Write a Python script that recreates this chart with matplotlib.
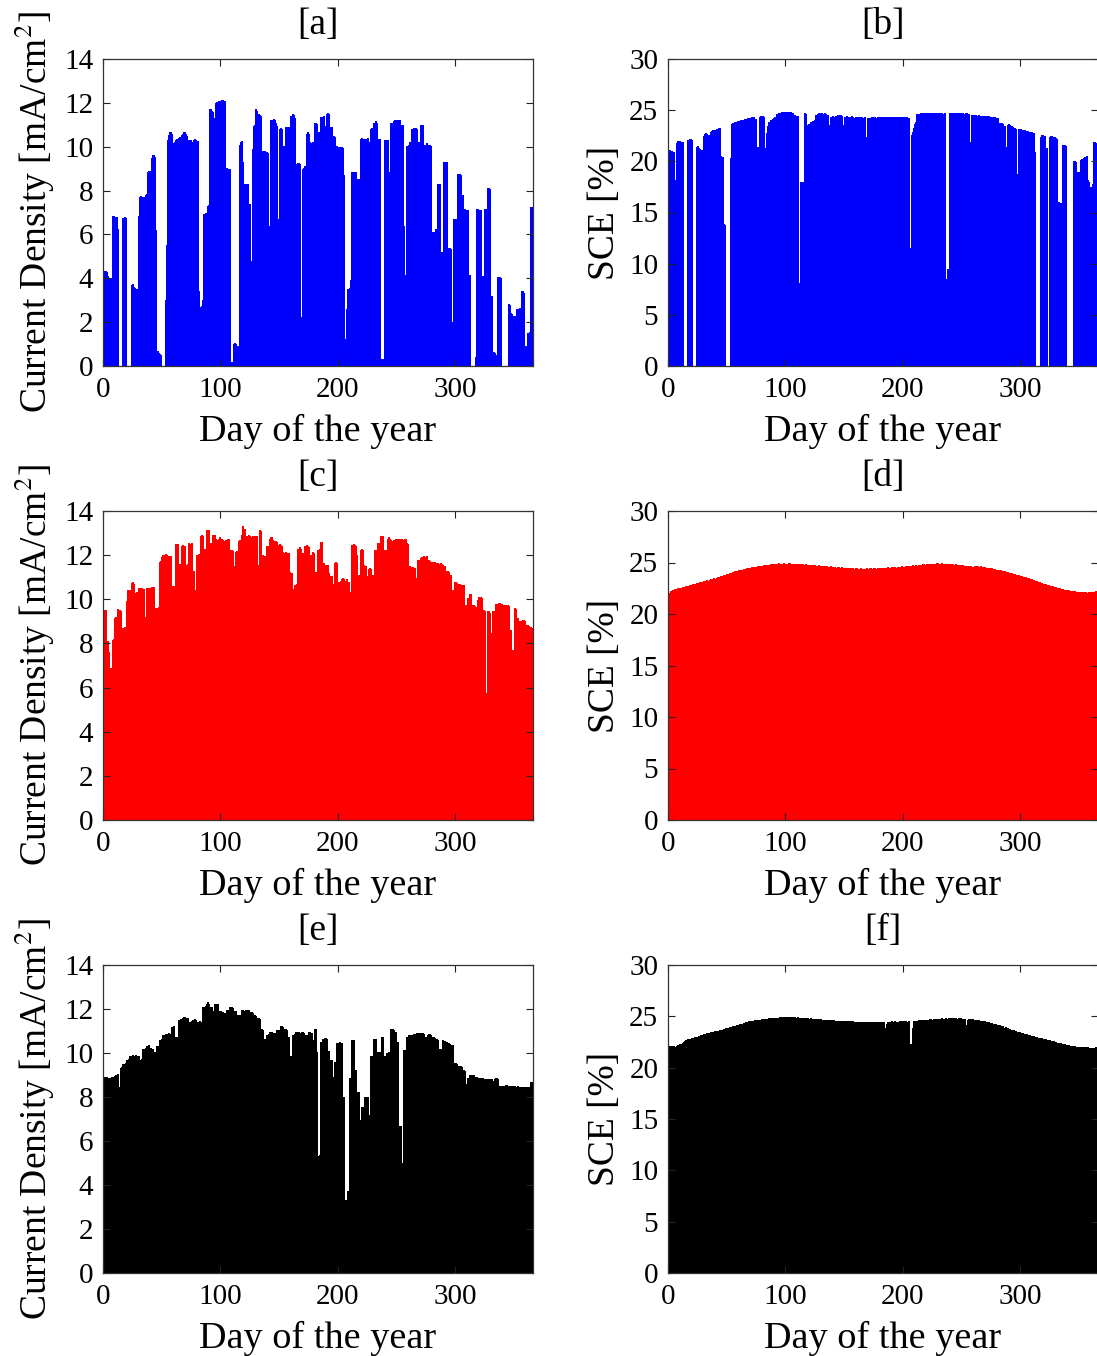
import numpy as np
import matplotlib
matplotlib.use("Agg")
import matplotlib.pyplot as plt

# Daily values (day 1..365)
# [a] current density, blue
cd_a = [
    4.35, 4.35, 4.3, 4.1, 4.0, 4.0, 1.9, 6.85, 6.85, 6.8,
    6.8, 6.25, 0, 0, 0, 0, 6.75, 6.8, 6.75, 0,
    0, 0, 0, 3.7, 3.75, 3.6, 3.55, 3.5, 3.5, 6.85,
    7.7, 7.75, 7.7, 7.7, 2.9, 7.8, 7.85, 8.85, 8.9, 8.9,
    9.5, 9.6, 9.6, 9.55, 6.2, 0.7, 0.6, 0.55, 0.5, 0,
    0, 0, 3.0, 5.5, 10.3, 10.55, 10.65, 10.6, 10.15, 10.1,
    10.2, 10.3, 10.35, 10.4, 10.45, 10.4, 10.55, 10.6, 10.65, 10.6,
    10.5, 10.3, 10.25, 10.3, 0.2, 10.2, 10.3, 10.35, 10.3, 10.25,
    3.4, 1.25, 2.7, 2.75, 3.0, 6.95, 7.0, 7.0, 7.3, 7.35,
    11.7, 11.65, 11.6, 10.95, 11.3, 12.0, 12.05, 12.1, 11.3, 12.1,
    12.15, 12.15, 12.1, 9.05, 9.05, 9.0, 9.0, 9.0, 0.2, 0.15,
    1.0, 1.05, 1.0, 0.9, 0.05, 10.1, 10.2, 10.25, 9.3, 8.3,
    8.3, 8.25, 8.3, 7.4, 7.4, 4.8, 9.9, 10.95, 11.0, 11.7,
    11.65, 11.5, 11.45, 11.4, 7.7, 9.8, 9.8, 9.75, 9.75, 9.7,
    6.4, 5.6, 11.2, 11.2, 11.25, 11.2, 11.1, 10.95, 6.7, 10.8,
    10.85, 10.8, 10.05, 10.05, 10.9, 10.9, 10.85, 10.9, 0.4, 11.4,
    11.5, 11.45, 11.3, 9.2, 9.2, 9.25, 9.2, 2.25, 2.25, 9.0,
    9.05, 9.1, 10.6, 10.65, 10.6, 10.2, 10.15, 10.2, 7.5, 11.1,
    11.1, 11.05, 10.65, 10.65, 11.35, 11.3, 11.35, 11.4, 10.95, 11.5,
    11.55, 11.5, 10.9, 10.9, 10.5, 10.5, 10.45, 10.05, 10.05, 10.0,
    10.0, 10.0, 10.0, 9.95, 8.7, 1.25, 2.6, 3.5, 3.5, 3.55,
    3.9, 8.85, 8.85, 8.85, 8.85, 8.55, 8.55, 8.55, 10.35, 10.4,
    10.35, 10.2, 10.35, 10.35, 10.4, 10.2, 10.2, 10.8, 10.85, 11.1,
    11.1, 11.15, 11.1, 10.35, 10.35, 0.3, 0.3, 0.25, 0.3, 10.3,
    10.3, 10.3, 8.85, 8.85, 11.1, 11.1, 11.15, 11.2, 11.2, 11.2,
    11.15, 11.2, 11.0, 11.0, 11.0, 6.4, 4.15, 10.05, 10.05, 10.1,
    10.2, 10.2, 10.8, 10.85, 10.8, 10.85, 10.8, 10.2, 10.2, 11.0,
    11.0, 11.0, 10.1, 10.1, 10.15, 10.1, 10.1, 10.1, 10.05, 6.1,
    6.1, 0.3, 6.25, 6.25, 8.3, 8.3, 5.2, 5.2, 2.9, 9.3,
    9.3, 9.3, 5.4, 5.4, 5.4, 5.35, 2.0, 6.7, 6.7, 6.7,
    6.7, 8.75, 8.75, 8.7, 7.8, 7.8, 7.15, 7.15, 7.1, 7.1,
    4.15, 4.15, 0, 0, 0, 0, 0.4, 7.15, 7.15, 7.1,
    7.1, 4.1, 4.1, 0.1, 7.15, 7.15, 8.1, 8.1, 8.05, 3.2,
    3.2, 0.65, 0.6, 0.5, 0.1, 4.05, 4.05, 4.0, 0, 0,
    0, 0, 0, 0, 2.85, 2.8, 2.4, 2.35, 2.3, 2.3,
    0.8, 2.6, 2.6, 2.6, 2.65, 3.4, 3.4, 3.35, 0.1, 0.9,
    1.5, 1.5, 1.55, 7.25, 7.25,
]

# [b] SCE, blue
sce_b = [
    21.1, 21.05, 21.0, 20.95, 20.9, 18.2, 21.8, 22.0, 22.0, 21.95,
    21.9, 21.85, 0, 0, 0, 0, 22.1, 22.2, 22.15, 22.1,
    0, 0, 0, 21.4, 21.5, 21.3, 21.2, 21.1, 21.1, 22.5,
    22.7, 22.75, 22.7, 22.6, 20.1, 22.9, 23.0, 23.05, 23.1, 23.1,
    23.15, 23.2, 23.25, 23.3, 20.5, 20.4, 13.9, 13.8, 0, 0,
    0, 0, 20.3, 23.6, 23.7, 23.75, 23.8, 23.85, 23.9, 23.9,
    23.95, 24.0, 24.0, 24.05, 24.1, 24.1, 24.15, 24.2, 24.2, 24.25,
    24.3, 24.3, 24.35, 24.1, 0, 21.4, 21.4, 24.3, 24.4, 24.4,
    24.35, 17.0, 21.3, 22.8, 23.5, 23.8, 24.0, 24.0, 24.1, 24.2,
    24.3, 24.6, 24.65, 24.7, 24.75, 24.75, 24.8, 24.8, 24.85, 24.85,
    24.85, 24.8, 24.85, 24.8, 24.75, 24.7, 24.5, 24.5, 24.45, 24.4,
    8.1, 8.1, 18.0, 18.0, 0, 24.7, 24.65, 23.55, 23.5, 23.6,
    23.85, 23.8, 23.9, 23.85, 24.0, 24.5, 24.6, 24.7, 24.7, 24.75,
    24.7, 24.65, 24.7, 24.6, 24.5, 24.5, 23.55, 24.3, 24.35, 24.4,
    24.35, 22.6, 24.4, 24.5, 24.5, 24.45, 24.5, 24.4, 23.55, 24.3,
    24.35, 24.4, 24.35, 24.3, 24.35, 24.4, 24.3, 13.45, 24.2, 24.3,
    24.35, 24.3, 24.25, 24.3, 24.3, 24.25, 24.3, 22.4, 22.3, 24.2,
    24.25, 24.2, 24.3, 24.25, 24.3, 24.3, 24.25, 24.3, 24.35, 24.3,
    24.35, 24.3, 24.3, 24.35, 24.35, 24.3, 24.35, 24.3, 24.3, 24.35,
    24.3, 24.35, 24.35, 24.3, 24.35, 24.3, 24.35, 24.35, 24.3, 24.3,
    24.35, 24.3, 24.3, 24.25, 24.2, 11.55, 22.6, 22.9, 23.3, 23.6,
    23.8, 24.6, 24.65, 24.6, 24.7, 24.65, 24.7, 24.7, 24.65, 24.7,
    24.7, 24.65, 24.7, 24.7, 24.7, 24.75, 24.7, 24.7, 24.7, 24.65,
    24.7, 24.7, 24.7, 24.65, 24.7, 8.55, 8.55, 9.5, 9.5, 24.7,
    24.65, 24.7, 24.7, 24.65, 24.7, 24.7, 24.75, 24.7, 24.65, 24.7,
    24.7, 24.65, 24.7, 24.7, 24.65, 24.6, 21.9, 24.5, 24.5, 24.55,
    24.5, 24.5, 24.45, 24.5, 24.45, 24.45, 24.4, 24.45, 24.4, 24.4,
    24.4, 24.35, 24.4, 24.35, 24.3, 24.35, 24.3, 24.3, 24.25, 24.2,
    12.5, 23.7, 23.75, 23.7, 23.6, 23.5, 21.4, 21.4, 23.55, 23.6,
    23.55, 23.5, 23.4, 23.3, 23.3, 23.2, 18.8, 23.2, 23.15, 23.2,
    23.1, 23.1, 23.05, 23.0, 23.0, 22.95, 22.9, 22.9, 22.85, 22.8,
    22.8, 20.95, 0, 0, 0, 0, 22.4, 22.6, 22.55, 22.5,
    21.3, 21.3, 0, 0, 22.4, 22.45, 22.4, 22.35, 22.4, 22.3,
    22.2, 16.05, 15.9, 15.9, 0, 21.6, 21.55, 21.5, 0, 0,
    0, 0, 0, 0, 20.0, 20.0, 19.9, 19.0, 19.0, 17.0,
    20.1, 20.2, 20.2, 20.3, 20.4, 20.5, 18.2, 18.0, 8.55, 17.5,
    17.8, 21.9, 21.9, 21.8, 21.8,
]

# [c] current density, red
cd_c = [
    9.5, 9.5, 8.1, 8.1, 7.6, 6.9, 6.85, 8.15, 8.2, 9.15,
    9.2, 9.55, 9.5, 9.5, 9.45, 7.25, 8.7, 8.75, 8.7, 9.9,
    10.4, 10.35, 10.4, 10.75, 10.8, 10.7, 10.3, 10.3, 10.35, 10.5,
    10.45, 10.5, 10.5, 10.45, 9.15, 9.2, 10.5, 10.45, 10.5, 10.5,
    10.55, 10.5, 10.55, 7.55, 9.6, 9.6, 9.65, 11.7, 11.75, 11.9,
    12.0, 12.0, 12.05, 12.0, 11.95, 11.9, 11.95, 10.55, 10.6, 10.6,
    10.6, 12.5, 12.5, 11.55, 11.6, 11.55, 12.4, 12.45, 12.4, 11.55,
    11.5, 11.6, 12.55, 12.5, 12.55, 11.3, 11.3, 10.4, 10.4, 12.0,
    12.05, 12.0, 12.85, 12.9, 12.85, 12.3, 12.3, 13.15, 13.1, 13.15,
    12.55, 12.55, 12.9, 12.85, 12.9, 12.75, 12.7, 12.75, 12.8, 12.75,
    12.75, 12.7, 12.65, 12.7, 12.7, 12.75, 12.75, 12.25, 12.25, 12.2,
    11.5, 11.5, 12.15, 12.2, 12.65, 12.7, 12.65, 12.9, 13.3, 13.2,
    12.85, 12.8, 12.85, 12.9, 12.85, 12.8, 12.85, 12.8, 12.85, 12.8,
    12.85, 11.55, 13.15, 13.1, 11.95, 12.0, 11.95, 11.9, 12.4, 12.4,
    12.35, 12.75, 12.8, 12.7, 12.65, 12.6, 12.65, 12.6, 12.45, 12.5,
    12.45, 12.4, 12.15, 12.1, 12.15, 12.1, 12.05, 12.1, 11.25, 11.2,
    10.4, 10.45, 10.65, 10.6, 10.7, 12.3, 12.35, 12.3, 12.1, 12.1,
    12.05, 12.4, 12.45, 12.4, 12.35, 12.0, 12.0, 12.15, 12.1, 11.25,
    11.2, 11.25, 12.25, 12.3, 12.6, 12.6, 11.65, 11.65, 11.55, 11.5,
    11.55, 11.2, 11.05, 11.05, 10.7, 10.7, 11.65, 11.7, 11.65, 10.8,
    10.8, 10.85, 10.9, 10.95, 10.9, 10.85, 10.9, 10.8, 10.8, 10.35,
    10.35, 12.45, 12.5, 12.45, 12.4, 12.0, 11.1, 11.1, 12.25, 12.3,
    12.25, 11.55, 11.5, 11.05, 11.05, 11.35, 11.4, 11.35, 11.1, 11.1,
    12.25, 12.2, 12.25, 12.55, 12.55, 12.85, 12.8, 12.85, 12.25, 12.25,
    11.2, 12.75, 12.8, 12.75, 12.7, 12.65, 12.7, 12.6, 12.75, 12.75,
    12.7, 12.75, 12.7, 12.75, 12.7, 12.7, 12.75, 12.55, 12.5, 11.5,
    11.5, 11.4, 11.45, 11.4, 11.4, 10.95, 10.95, 11.8, 11.8, 11.85,
    11.9, 11.85, 11.95, 11.9, 11.95, 11.8, 11.8, 11.75, 11.7, 11.7,
    11.65, 11.7, 11.1, 11.65, 11.65, 11.6, 11.65, 11.6, 11.55, 11.5,
    11.5, 11.3, 11.3, 11.25, 11.1, 11.1, 10.4, 10.4, 10.8, 10.8,
    10.75, 10.7, 10.7, 10.65, 10.65, 10.6, 10.65, 9.75, 9.75, 10.05,
    10.05, 10.25, 10.25, 9.75, 9.75, 9.7, 9.65, 9.65, 9.95, 10.1,
    10.1, 10.05, 9.5, 9.5, 9.45, 5.75, 9.45, 9.45, 9.4, 8.45,
    8.45, 9.45, 9.45, 9.8, 9.75, 9.8, 9.85, 9.8, 9.8, 9.75,
    9.75, 9.7, 9.75, 9.75, 9.7, 8.6, 8.6, 7.7, 7.7, 9.6,
    9.55, 9.15, 9.15, 8.25, 9.0, 9.0, 9.05, 9.05, 9.0, 8.85,
    8.85, 8.8, 8.75, 8.75, 8.7,
]

# [d] SCE, red
sce_d = [
    22.0, 22.2, 22.1, 22.3, 22.3, 22.4, 22.3, 22.5, 22.4, 22.5,
    22.5, 22.6, 22.5, 22.6, 22.7, 22.6, 22.7, 22.8, 22.7, 22.8,
    22.9, 22.8, 22.9, 23.0, 22.9, 23.0, 23.1, 23.0, 23.1, 23.2,
    23.1, 23.2, 23.3, 23.2, 23.3, 23.4, 23.3, 23.4, 23.5, 23.4,
    23.5, 23.6, 23.5, 23.6, 23.7, 23.7, 23.8, 23.7, 23.8, 23.9,
    23.9, 24.0, 23.9, 24.0, 24.1, 24.1, 24.2, 24.1, 24.2, 24.3,
    24.3, 24.2, 24.3, 24.4, 24.4, 24.4, 24.5, 24.4, 24.5, 24.5,
    24.6, 24.5, 24.6, 24.6, 24.6, 24.7, 24.6, 24.7, 24.7, 24.7,
    24.8, 24.7, 24.8, 24.8, 24.8, 24.8, 24.9, 24.8, 24.9, 24.9,
    24.9, 24.9, 24.9, 25.0, 24.9, 24.9, 24.9, 25.0, 24.9, 24.9,
    24.9, 24.9, 25.0, 24.9, 24.9, 24.9, 24.8, 24.9, 24.9, 24.9,
    24.9, 24.8, 24.9, 24.9, 24.8, 24.8, 24.9, 24.8, 24.8, 24.8,
    24.8, 24.8, 24.7, 24.8, 24.8, 24.7, 24.7, 24.8, 24.7, 24.7,
    24.7, 24.7, 24.7, 24.6, 24.7, 24.6, 24.6, 24.7, 24.6, 24.6,
    24.6, 24.6, 24.5, 24.6, 24.6, 24.5, 24.5, 24.6, 24.5, 24.5,
    24.5, 24.5, 24.4, 24.5, 24.5, 24.4, 24.5, 24.4, 24.4, 24.5,
    24.4, 24.4, 24.4, 24.5, 24.4, 24.4, 24.4, 24.4, 24.5, 24.4,
    24.4, 24.5, 24.4, 24.4, 24.5, 24.5, 24.4, 24.5, 24.5, 24.5,
    24.5, 24.4, 24.5, 24.5, 24.5, 24.5, 24.6, 24.5, 24.5, 24.6,
    24.5, 24.6, 24.6, 24.5, 24.6, 24.6, 24.6, 24.6, 24.7, 24.6,
    24.6, 24.7, 24.6, 24.7, 24.7, 24.7, 24.7, 24.8, 24.7, 24.7,
    24.8, 24.7, 24.8, 24.8, 24.8, 24.8, 24.9, 24.8, 24.8, 24.9,
    24.8, 24.9, 24.9, 24.9, 24.8, 24.9, 24.9, 24.9, 25.0, 24.9,
    24.9, 24.9, 25.0, 24.9, 24.9, 24.9, 24.9, 24.8, 24.9, 24.9,
    24.8, 24.9, 24.8, 24.8, 24.9, 24.8, 24.8, 24.8, 24.7, 24.8,
    24.8, 24.7, 24.7, 24.7, 24.7, 24.6, 24.7, 24.6, 24.6, 24.6,
    24.7, 24.6, 24.7, 24.6, 24.6, 24.65, 24.6, 24.6, 24.55, 24.5,
    24.5, 24.5, 24.5, 24.5, 24.45, 24.4, 24.4, 24.35, 24.3, 24.3,
    24.3, 24.3, 24.25, 24.2, 24.2, 24.15, 24.1, 24.1, 24.05, 24.0,
    24.0, 23.95, 23.9, 23.9, 23.85, 23.8, 23.8, 23.75, 23.7, 23.7,
    23.65, 23.6, 23.6, 23.55, 23.5, 23.5, 23.45, 23.4, 23.35, 23.3,
    23.3, 23.25, 23.2, 23.2, 23.15, 23.1, 23.05, 23.0, 22.95, 22.9,
    22.9, 22.85, 22.8, 22.8, 22.75, 22.7, 22.7, 22.65, 22.6, 22.6,
    22.55, 22.5, 22.5, 22.45, 22.4, 22.4, 22.35, 22.3, 22.3, 22.25,
    22.3, 22.2, 22.25, 22.2, 22.15, 22.2, 22.1, 22.15, 22.1, 22.1,
    22.1, 22.05, 22.1, 22.0, 22.1, 22.05, 21.9, 22.1, 22.0, 22.1,
    22.05, 22.1, 22.15, 22.2, 22.2,
]

# [e] current density, black
cd_e = [
    8.9, 8.9, 8.9, 8.85, 8.85, 8.85, 8.9, 8.9, 8.9, 8.95,
    9.0, 9.05, 8.45, 8.45, 9.3, 9.35, 9.5, 9.5, 9.55, 9.7,
    9.7, 9.75, 9.85, 9.85, 9.9, 9.85, 9.85, 9.9, 9.85, 9.85,
    9.7, 9.7, 9.75, 10.2, 10.2, 10.25, 10.3, 10.3, 10.35, 10.25,
    10.2, 10.2, 10.05, 10.05, 9.4, 10.3, 10.3, 10.6, 10.6, 10.65,
    10.8, 10.8, 10.85, 10.85, 10.85, 10.9, 10.85, 11.2, 11.2, 11.25,
    10.75, 10.75, 10.75, 11.5, 11.5, 11.55, 11.5, 11.6, 11.65, 11.6,
    11.55, 11.6, 11.4, 11.4, 11.45, 11.5, 11.5, 11.55, 11.5, 11.4,
    11.4, 11.45, 11.4, 11.0, 12.1, 12.1, 12.15, 12.25, 12.3, 12.25,
    12.1, 12.1, 11.9, 11.9, 12.25, 12.2, 12.25, 11.9, 11.9, 11.9,
    11.8, 11.85, 11.8, 11.8, 11.95, 11.95, 11.9, 12.1, 12.1, 12.05,
    11.9, 11.9, 11.9, 11.75, 11.75, 11.7, 11.75, 11.95, 11.95, 11.9,
    11.95, 11.95, 11.9, 11.95, 11.85, 11.85, 11.8, 11.75, 11.75, 11.7,
    11.6, 11.6, 11.55, 11.1, 11.1, 11.05, 10.65, 10.65, 10.8, 10.8,
    10.85, 10.95, 10.95, 10.9, 10.9, 10.85, 10.9, 11.05, 11.05, 11.0,
    11.25, 11.25, 11.2, 11.1, 11.1, 11.05, 10.75, 10.75, 9.85, 9.85,
    10.8, 10.8, 10.85, 10.95, 10.9, 10.95, 10.9, 10.85, 10.95, 10.95,
    10.9, 10.8, 10.75, 10.8, 10.95, 10.95, 10.9, 10.6, 10.6, 11.1,
    11.1, 10.05, 5.3, 5.35, 10.5, 10.5, 10.65, 10.65, 10.7, 10.65,
    10.1, 10.1, 9.7, 9.7, 8.9, 8.9, 9.6, 9.6, 10.45, 10.45,
    10.5, 10.45, 10.45, 8.0, 8.0, 3.3, 3.25, 3.75, 3.7, 8.85,
    8.85, 10.6, 10.6, 9.25, 9.25, 8.25, 8.25, 6.95, 6.95, 7.55,
    7.55, 7.55, 8.0, 8.0, 8.0, 7.2, 7.2, 9.85, 9.85, 10.65,
    10.65, 10.65, 10.05, 10.05, 10.05, 8.1, 10.75, 10.75, 9.85, 9.85,
    10.0, 10.0, 10.05, 10.05, 11.1, 11.1, 11.05, 10.95, 10.95, 10.5,
    10.5, 6.7, 6.7, 5.0, 5.0, 10.15, 10.15, 10.75, 10.75, 10.8,
    10.8, 10.8, 10.8, 10.85, 10.85, 10.85, 10.9, 10.9, 10.9, 10.85,
    10.9, 10.9, 10.85, 10.75, 10.75, 10.8, 10.85, 10.85, 10.8, 10.75,
    10.75, 10.7, 10.65, 10.65, 10.6, 10.2, 10.2, 10.2, 10.6, 10.55,
    10.55, 10.5, 10.45, 10.45, 10.4, 10.35, 10.35, 8.05, 9.55, 9.55,
    9.5, 9.4, 9.4, 9.4, 9.35, 9.25, 9.25, 9.2, 8.6, 8.85,
    8.85, 9.0, 9.0, 8.95, 9.0, 8.9, 8.9, 8.9, 8.85, 8.85,
    8.85, 8.8, 8.85, 8.8, 8.8, 8.8, 8.75, 8.8, 8.8, 8.8,
    8.8, 8.75, 8.8, 8.85, 8.85, 8.8, 8.5, 8.5, 8.5, 8.5,
    8.5, 8.5, 8.55, 8.5, 8.5, 8.5, 8.5, 8.45, 8.5, 8.5,
    8.45, 8.45, 8.5, 8.45, 8.45, 8.45, 8.4, 8.45, 8.45, 8.45,
    8.45, 8.4, 8.45, 8.7, 8.7,
]

# [f] SCE, black
sce_f = [
    22.1, 22.1, 22.0, 22.1, 22.1, 22.0, 22.1, 22.2, 22.2, 22.3,
    22.35, 22.4, 22.5, 22.6, 22.7, 22.7, 22.75, 22.8, 22.8, 22.85,
    22.9, 22.9, 22.95, 23.0, 23.0, 23.05, 23.1, 23.2, 23.2, 23.25,
    23.3, 23.3, 23.35, 23.4, 23.4, 23.45, 23.5, 23.5, 23.5, 23.55,
    23.55, 23.6, 23.6, 23.65, 23.65, 23.7, 23.75, 23.8, 23.85, 23.9,
    23.9, 23.95, 24.0, 24.0, 24.05, 24.1, 24.1, 24.15, 24.2, 24.2,
    24.25, 24.25, 24.3, 24.35, 24.35, 24.4, 24.4, 24.45, 24.5, 24.5,
    24.5, 24.55, 24.55, 24.6, 24.6, 24.6, 24.65, 24.65, 24.65, 24.7,
    24.7, 24.7, 24.75, 24.7, 24.75, 24.8, 24.75, 24.8, 24.8, 24.8,
    24.85, 24.8, 24.85, 24.85, 24.9, 24.85, 24.9, 24.9, 24.85, 24.9,
    24.9, 24.9, 24.95, 24.9, 24.9, 24.85, 24.9, 24.9, 24.85, 24.9,
    24.85, 24.85, 24.85, 24.8, 24.85, 24.8, 24.8, 24.8, 24.8, 24.75,
    24.8, 24.75, 24.75, 24.75, 24.7, 24.7, 24.7, 24.7, 24.65, 24.7,
    24.65, 24.65, 24.65, 24.6, 24.65, 24.6, 24.6, 24.6, 24.6, 24.55,
    24.6, 24.55, 24.55, 24.55, 24.55, 24.5, 24.55, 24.5, 24.5, 24.5,
    24.5, 24.5, 24.45, 24.5, 24.5, 24.45, 24.5, 24.45, 24.45, 24.45,
    24.45, 24.4, 24.45, 24.45, 24.4, 24.45, 24.45, 24.4, 24.45, 24.4,
    24.45, 24.4, 24.45, 24.4, 24.4, 24.45, 24.4, 24.45, 24.4, 24.45,
    24.4, 24.45, 24.4, 23.9, 23.6, 24.3, 24.4, 24.45, 24.4, 24.5,
    24.45, 24.45, 24.5, 24.45, 24.2, 24.45, 24.5, 24.45, 24.5, 24.5,
    24.45, 24.5, 24.4, 24.45, 24.5, 22.3, 22.2, 23.9, 24.5, 24.55,
    24.5, 24.55, 24.6, 24.5, 24.6, 24.3, 24.6, 24.6, 24.65, 24.6,
    24.65, 24.6, 24.7, 24.65, 24.35, 24.7, 24.7, 24.7, 24.75, 24.7,
    24.75, 24.7, 24.8, 24.75, 24.7, 24.8, 24.4, 24.75, 24.8, 24.8,
    24.75, 24.8, 24.8, 24.75, 24.8, 24.7, 24.8, 24.75, 24.8, 24.75,
    24.7, 24.75, 24.2, 23.7, 24.6, 24.7, 24.7, 24.65, 24.7, 24.65,
    24.65, 24.6, 24.6, 24.6, 24.55, 24.55, 24.5, 24.5, 24.5, 24.45,
    24.45, 24.4, 24.4, 24.35, 24.35, 24.3, 24.3, 24.25, 24.25, 24.2,
    24.2, 24.15, 24.1, 24.1, 24.05, 23.9, 23.95, 23.9, 23.85, 23.8,
    23.75, 23.7, 23.7, 23.65, 23.6, 23.55, 23.5, 23.5, 23.45, 23.4,
    23.4, 23.35, 23.3, 23.3, 23.25, 23.2, 23.2, 23.15, 23.1, 23.05,
    23.05, 23.0, 23.0, 22.95, 22.9, 22.9, 22.85, 22.85, 22.8, 22.8,
    22.75, 22.7, 22.7, 22.65, 22.65, 22.6, 22.6, 22.55, 22.5, 22.5,
    22.45, 22.45, 22.4, 22.4, 22.35, 22.3, 22.3, 22.25, 22.25, 22.2,
    22.2, 22.15, 22.15, 22.1, 22.1, 22.1, 22.05, 22.05, 22.0, 22.0,
    22.0, 22.0, 22.0, 21.95, 22.0, 21.95, 22.0, 21.95, 21.95, 21.95,
    21.95, 21.9, 21.95, 22.0, 22.0,
]

panel_titles = ["[a]", "[b]", "[c]", "[d]", "[e]", "[f]"]
cd_label = "Current Density [mA/cm$^2$]"
sce_label = "SCE [%]"
x_label = "Day of the year"

plt.rcParams['font.family'] = ['Liberation Serif', 'DejaVu Serif']
plt.rcParams['mathtext.fontset'] = 'stix'

W, H = 1097, 1356
fig = plt.figure(figsize=(W / 100, H / 100), dpi=100)


def add_axes(left, top, right, bottom):
    # pixel box -> figure fraction
    return fig.add_axes([left / W, 1 - bottom / H, (right - left) / W, (bottom - top) / H])


def draw_panel(ax, values, color, ymax, ystep, ylabel, title):
    days = np.arange(1, len(values) + 1)
    ax.bar(days, values, width=1.0, color=color, edgecolor=color,
           linewidth=0.5, antialiased=False)
    ax.set_xlim(0, 366)
    ax.set_ylim(0, ymax)
    ax.set_xticks([0, 100, 200, 300])
    ax.set_yticks(np.arange(0, ymax + 1, ystep))
    ax.tick_params(direction='in', top=True, right=True, length=5, width=0.8,
                   labelsize=21, colors='#222222', labelcolor='black')
    ax.tick_params(axis='x', pad=8)
    ax.tick_params(axis='y', pad=7)
    for sp in ax.spines.values():
        sp.set_linewidth(0.9)
        sp.set_color('#333333')
    ax.set_xlabel(x_label, fontsize=27.5, labelpad=8)
    ax.set_ylabel(ylabel, fontsize=27, labelpad=5)
    ax.set_title(title, fontsize=27, pad=18)


rows = [(59, 366), (511, 820), (965, 1273)]
left_data = [cd_a, cd_c, cd_e]
right_data = [sce_b, sce_d, sce_f]
colors = ['#0000ff', '#ff0000', '#000000']

for i, (top, bottom) in enumerate(rows):
    ax_l = add_axes(103, top, 533, bottom)
    draw_panel(ax_l, left_data[i], colors[i], 14, 2, cd_label, panel_titles[2 * i])
    ax_r = add_axes(668, top, 1098, bottom)
    draw_panel(ax_r, right_data[i], colors[i], 30, 5, sce_label, panel_titles[2 * i + 1])

fig.savefig("out.png", dpi=100)
